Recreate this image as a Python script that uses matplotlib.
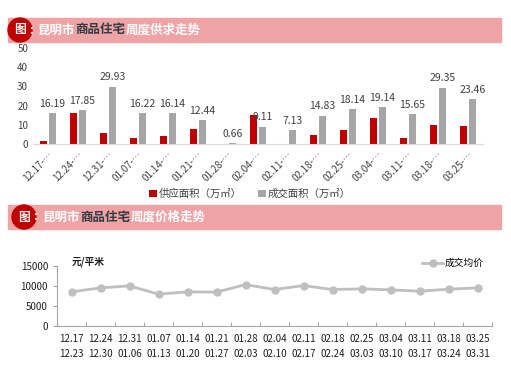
"""Kunming weekly residential supply/transaction and price charts."""
import matplotlib.pyplot as plt
import numpy as np
from matplotlib.patches import Rectangle, Circle

plt.rcParams['font.family'] = ['Noto Sans CJK SC', 'DejaVu Sans']

weeks_start = ['12.17', '12.24', '12.31', '01.07', '01.14', '01.21', '01.28', '02.04',
               '02.11', '02.18', '02.25', '03.04', '03.11', '03.18', '03.25']
weeks_end = ['12.23', '12.30', '01.06', '01.13', '01.20', '01.27', '02.03', '02.10',
             '02.17', '02.24', '03.03', '03.10', '03.17', '03.24', '03.31']
supply = [1.7, 16.3, 5.6, 3.3, 4.0, 8.0, 0, 15.1, 0, 4.7, 7.3, 13.7, 3.0, 9.9, 9.4]
deals = [16.19, 17.85, 29.93, 16.22, 16.14, 12.44, 0.66, 9.11, 7.13, 14.83, 18.14,
         19.14, 15.65, 29.35, 23.46]
price = [8540, 9530, 10030, 7960, 8540, 8460, 10360, 9120, 10110, 9120, 9290,
         9040, 8700, 9200, 9530]

W, H = 511, 385
fig = plt.figure(figsize=(W / 100, H / 100), dpi=100)
renderer = fig.canvas.get_renderer()

c_red = '#c00000'
c_gray = '#a6a6a6'
c_band = '#f0a3a5'
c_txt = '#404040'


def banner(y0, y1, cx, x_text, parts):
    cy = (y0 + y1) / 2
    fig.patches.append(Rectangle((8 / W, 1 - y1 / H), (501 - 8) / W, (y1 - y0) / H,
                                 transform=fig.transFigure, color=c_band, zorder=0))
    # circle drawn in pixel space so it stays round
    fig.patches.append(Circle((cx, H - cy), 12, transform=None, color=c_red, zorder=1))
    fig.text(cx / W, 1 - cy / H, '图', color='white', fontsize=8.5, fontweight='bold',
             ha='center', va='center', zorder=3)
    fig.text((cx + 9) / W, 1 - cy / H, ':', color='white', fontsize=8.5,
             fontweight='bold', ha='left', va='center', zorder=3)
    x = x_text
    for s, col in parts:
        t = fig.text(x / W, 1 - cy / H, s, color=col, fontsize=9, fontweight='bold',
                     ha='left', va='center', zorder=3)
        x += t.get_window_extent(renderer).width


banner(18, 42, 20, 38, [('昆明市', 'white'), ('商品住宅', '#2f3b45'), ('周度供求走势', 'white')])
banner(205, 229, 24, 43, [('昆明市', 'white'), ('商品住宅', '#2f3b45'), ('周度价格走势', 'white')])

# ---------- top: supply / transactions ----------
ax1 = fig.add_axes([33 / W, 1 - 144 / H, (483 - 33) / W, (144 - 48) / H])
x = np.arange(len(weeks_start))
bw = 0.24
ax1.bar(x - 0.145, supply, bw, color=c_red, label='供应面积（万㎡）')
bars = ax1.bar(x + 0.145, deals, bw, color=c_gray, label='成交面积（万㎡）')
for b, v in zip(bars, deals):
    ax1.annotate(f'{v:.2f}', xy=(b.get_x() + b.get_width() / 2, v), xytext=(0, 3),
                 textcoords='offset points', ha='center', va='bottom',
                 fontsize=7.5, color=c_txt)
ax1.set_xlim(-0.5, len(x) - 0.5)
ax1.set_ylim(0, 50)
ax1.set_yticks(range(0, 51, 10))
ax1.set_xticks(x)
ax1.set_xticklabels([w + '-…' for w in weeks_start], rotation=45, ha='right',
                    rotation_mode='anchor', fontsize=7, color=c_txt)
ax1.tick_params(axis='both', length=0, labelsize=7, labelcolor=c_txt)
ax1.tick_params(axis='x', pad=4)
for s in ['top', 'right', 'left']:
    ax1.spines[s].set_visible(False)
ax1.spines['bottom'].set_color('#d9d9d9')
ax1.patch.set_alpha(0)

fig.legend(*ax1.get_legend_handles_labels(), loc='center', ncol=2,
           bbox_to_anchor=(250 / W, 1 - 194 / H), frameon=False, fontsize=7.5,
           handlelength=0.7, handleheight=0.7, handletextpad=0.2, columnspacing=1.6,
           labelcolor=c_txt)

# ---------- bottom: average price ----------
ax2 = fig.add_axes([57 / W, 1 - 326 / H, (492 - 57) / W, (326 - 266) / H])
ax2.plot(x, price, color='#bfbfbf', lw=2, marker='o', ms=5, label='成交均价')
ax2.set_xlim(-0.5, len(x) - 0.5)
ax2.set_ylim(0, 15000)
ax2.set_yticks(range(0, 15001, 5000))
ax2.set_xticks(np.arange(-0.5, len(x)), minor=False)
ax2.set_xticklabels([])
ax2.set_xticks(x, minor=True)
ax2.set_xticklabels([f'{a}\n{b}' for a, b in zip(weeks_start, weeks_end)], minor=True,
                    fontsize=7, color='#1f1f1f', linespacing=1.6)
ax2.tick_params(axis='x', which='major', direction='in', length=3, color='#a6a6a6')
ax2.tick_params(axis='x', which='minor', length=0, pad=6)
ax2.tick_params(axis='y', direction='out', length=3, color='#a6a6a6', labelsize=7,
                labelcolor='#1f1f1f')
for s in ['top', 'right']:
    ax2.spines[s].set_visible(False)
for s in ['left', 'bottom']:
    ax2.spines[s].set_color('#a6a6a6')
ax2.legend(loc='upper right', bbox_to_anchor=(1.0, 1.28), frameon=False, fontsize=7,
           handlelength=2.2, handletextpad=0.1)
fig.text(72 / W, 1 - 262 / H, '元/平米', fontsize=7, fontweight='bold', color='#1f1f1f',
         ha='left', va='center')

fig.savefig('out.png', dpi=100, facecolor='white')
